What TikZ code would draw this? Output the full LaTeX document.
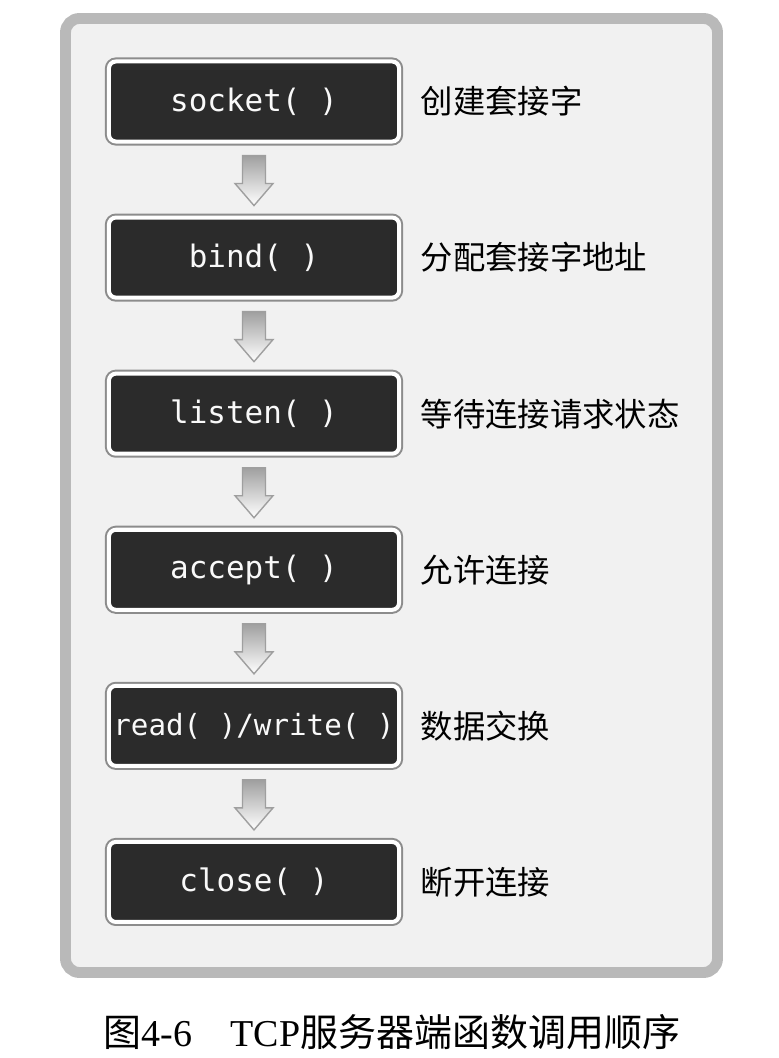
\documentclass[tikz,border=0pt]{standalone}
\usepackage{fontspec}
\setmainfont{Liberation Serif}
\newfontfamily\cjk{Noto Sans CJK SC}
\newfontfamily\codefont{DejaVu Sans Mono}
\usepackage{xcolor}
\usetikzlibrary{positioning}
\definecolor{boxdark}{HTML}{2B2B2B}
\definecolor{boxrim}{HTML}{8C8C8C}
\definecolor{framegray}{HTML}{B9B9B9}
\definecolor{panel}{HTML}{F1F1F1}

\begin{document}
\begin{tikzpicture}[x=0.01cm, y=-0.01cm, node distance=0.76cm, box/.style={rectangle, rounded corners=0.07cm, fill=boxdark, draw=white, line width=1.14pt, outer sep=0pt, preaction={draw=boxrim, line width=2.28pt}, minimum width=2.9cm, minimum height=0.8cm, inner sep=0pt, text=gray!5, font=\codefont\fontsize{8.8}{10}\selectfont}, desc/.style={inner sep=0pt, font=\cjk\fontsize{9.2}{11}\selectfont}, fatarrow/.style={draw=gray!75, line width=0.4pt, top color=gray!75, bottom color=white}]
\useasboundingbox (0,0) rectangle (778,1058);
\draw[framegray, line width=3.1pt, fill=panel, rounded corners=0.14cm] (65.5,18.5) rectangle (717.5,972.5);
% call sequence
\node[box] (socket) at (254,101.5) {socket( )};
\node[box, below=of socket] (bind) {bind( )};
\node[box, below=of bind] (listen) {listen( )};
\node[box, below=of listen] (accept) {accept( )};
\node[box, below=of accept, font=\codefont\fontsize{8.3}{10}\selectfont] (read) {read( )/write( )};
\node[box, below=of read] (close) {close( )};
% descriptions
\node[desc, right=0.21cm of socket] (socketdesc) {创建套接字};
\node[desc, right=0.21cm of bind] (binddesc) {分配套接字地址};
\node[desc, right=0.21cm of listen] (listendesc) {等待连接请求状态};
\node[desc, right=0.21cm of accept] (acceptdesc) {允许连接};
\node[desc, right=0.21cm of read] (readdesc) {数据交换};
\node[desc, right=0.21cm of close] (closedesc) {断开连接};
\foreach \a/\b in {socket/bind, bind/listen, listen/accept, accept/read, read/close}
  \draw[fatarrow] ([shift={(-11.5,14)}]\a.south) -- ++(0,28) -- ++(-7.5,0) -- ([shift={(0,-12)}]\b.north) -- ([shift={(19,42)}]\a.south) -- ++(-7.5,0) -- ([shift={(11.5,14)}]\a.south) -- cycle;
\node[inner sep=0pt, font=\fontsize{10.8}{13}\selectfont] (caption) at (392,1032) {{\cjk 图}4-6\quad TCP{\cjk 服务器端函数调用顺序}};
\end{tikzpicture}
\end{document}
